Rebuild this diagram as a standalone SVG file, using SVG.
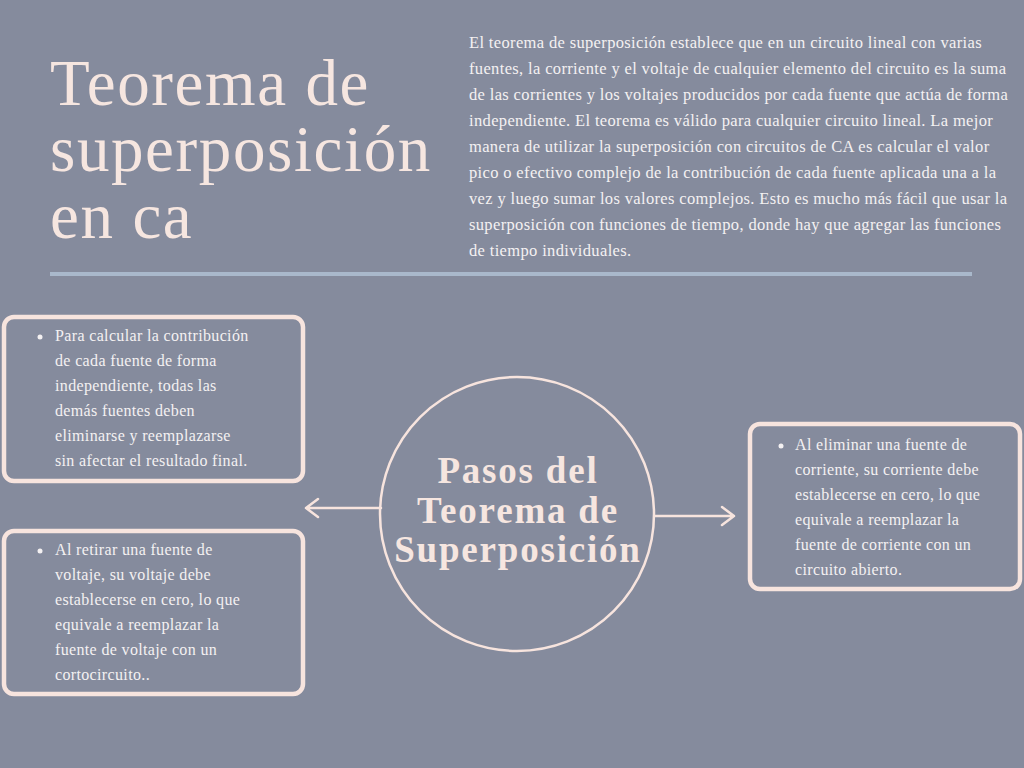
<svg xmlns="http://www.w3.org/2000/svg" width="1024" height="768" viewBox="0 0 1024 768">
<defs>
<style>
.bg{fill:#858B9D}
.box{fill:none;stroke:#F7E4DE;stroke-width:4.5}
.title{font-family:"Liberation Serif","DejaVu Serif",serif;fill:#F6E6E0;font-size:65px;letter-spacing:1.6px}
.para{font-family:"Liberation Serif","DejaVu Serif",serif;fill:#F4F1F2;font-size:16.5px;letter-spacing:0.35px}
.body{font-family:"Liberation Serif","DejaVu Serif",serif;fill:#F4F1F2;font-size:16px;letter-spacing:0.35px}
.center{font-family:"Liberation Serif","DejaVu Serif",serif;fill:#F6E6E0;font-size:37px;font-weight:bold;text-anchor:middle;letter-spacing:1.8px}
.conn{fill:none;stroke:#F7E4DE;stroke-width:2.5;stroke-linecap:round;stroke-linejoin:round}
.dot{fill:#F4F1F2}
</style>
</defs>
<rect class="bg" x="0" y="0" width="1024" height="768"/>
<g id="title">
<text class="title" x="50" y="105">Teorema de</text>
<text class="title" x="50" y="171">superposición</text>
<text class="title" x="50" y="238">en ca</text>
</g>
<g id="intro">
<text class="para" x="469" y="48">El teorema de superposición establece que en un circuito lineal con varias</text>
<text class="para" x="469" y="74">fuentes, la corriente y el voltaje de cualquier elemento del circuito es la suma</text>
<text class="para" x="469" y="100">de las corrientes y los voltajes producidos por cada fuente que actúa de forma</text>
<text class="para" x="469" y="126">independiente. El teorema es válido para cualquier circuito lineal. La mejor</text>
<text class="para" x="469" y="152">manera de utilizar la superposición con circuitos de CA es calcular el valor</text>
<text class="para" x="469" y="178">pico o efectivo complejo de la contribución de cada fuente aplicada una a la</text>
<text class="para" x="469" y="204">vez y luego sumar los valores complejos. Esto es mucho más fácil que usar la</text>
<text class="para" x="469" y="230">superposición con funciones de tiempo, donde hay que agregar las funciones</text>
<text class="para" x="469" y="256">de tiempo individuales.</text>
</g>
<rect id="divider" x="50" y="272" width="922" height="4" fill="#A9B8CB"/>
<g id="connectors">
<path class="conn" d="M381 508 H306 M318 499 L306 508 L318 517"/>
<path class="conn" d="M655 516 H734 M722 507 L734 516 L722 525"/>
</g>
<g id="center">
<circle cx="517" cy="514" r="137" fill="none" stroke="#F7E4DE" stroke-width="2.5"/>
<text class="center" x="518" y="483">Pasos del</text>
<text class="center" x="518" y="523">Teorema de</text>
<text class="center" x="518" y="562">Superposición</text>
</g>
<g id="box1">
<rect class="box" x="4" y="317" width="299" height="164" rx="10"/>
<circle class="dot" cx="40" cy="337" r="2.5"/>
<text class="body" x="55" y="341">Para calcular la contribución</text>
<text class="body" x="55" y="366">de cada fuente de forma</text>
<text class="body" x="55" y="391">independiente, todas las</text>
<text class="body" x="55" y="416">demás fuentes deben</text>
<text class="body" x="55" y="441">eliminarse y reemplazarse</text>
<text class="body" x="55" y="466">sin afectar el resultado final.</text>
</g>
<g id="box2">
<rect class="box" x="4" y="531" width="299" height="163" rx="10"/>
<circle class="dot" cx="40" cy="551" r="2.5"/>
<text class="body" x="55" y="555">Al retirar una fuente de</text>
<text class="body" x="55" y="580">voltaje, su voltaje debe</text>
<text class="body" x="55" y="605">establecerse en cero, lo que</text>
<text class="body" x="55" y="630">equivale a reemplazar la</text>
<text class="body" x="55" y="655">fuente de voltaje con un</text>
<text class="body" x="55" y="680">cortocircuito..</text>
</g>
<g id="box3">
<rect class="box" x="750" y="424" width="270" height="165" rx="10"/>
<circle class="dot" cx="781" cy="446" r="2.5"/>
<text class="body" x="795" y="450">Al eliminar una fuente de</text>
<text class="body" x="795" y="475">corriente, su corriente debe</text>
<text class="body" x="795" y="500">establecerse en cero, lo que</text>
<text class="body" x="795" y="525">equivale a reemplazar la</text>
<text class="body" x="795" y="550">fuente de corriente con un</text>
<text class="body" x="795" y="575">circuito abierto.</text>
</g>
</svg>
